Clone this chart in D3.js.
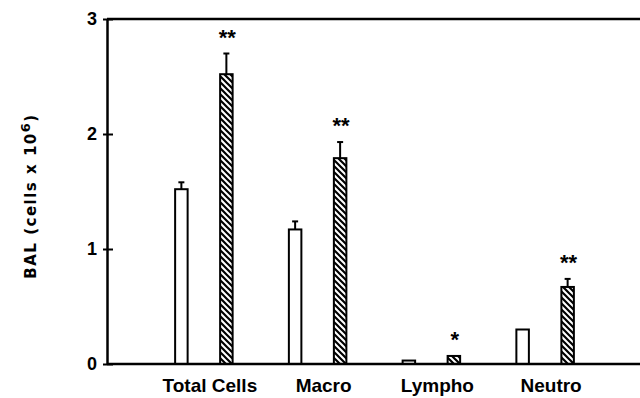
<!DOCTYPE html>
<html>
<head>
<meta charset="utf-8">
<script src="https://cdn.jsdelivr.net/npm/d3@7"></script>
<style>
  body { margin: 0; background: #fff; }
  text { font-family: "Liberation Sans", Arial, sans-serif; font-weight: bold; fill: #000; }
</style>
</head>
<body>
<div id="chart"></div>
<script>
// data (cells x 10^6)
const categories = ["Total Cells", "Macro", "Lympho", "Neutro"];
const series = ["control", "exposed"];
const controlMean = [1.52, 1.17, 0.03, 0.30];
const controlSE = [0.06, 0.07, 0.0, 0.0];
const exposedMean = [2.52, 1.79, 0.07, 0.67];
const exposedSE = [0.18, 0.14, 0.0, 0.07];
const stars = ["**", "**", "*", "**"];
const yTicks = [0, 1, 2, 3];

const width = 640, height = 398;
const margin = { top: 19, right: 0, bottom: 34, left: 107 };

const rows = [];
categories.forEach((c, i) => {
    rows.push({ cat: c, s: "control", mean: controlMean[i], se: controlSE[i], star: "" });
    rows.push({ cat: c, s: "exposed", mean: exposedMean[i], se: exposedSE[i], star: stars[i] });
});

const svg = d3.select("#chart")
    .append("svg")
    .attr("width", width)
    .attr("height", height);

// hatch for the exposed bars
svg.append("defs")
    .append("pattern")
    .attr("id", "hatch")
    .attr("patternUnits", "userSpaceOnUse")
    .attr("width", 6)
    .attr("height", 6)
    .append("path")
    .attr("d", "M0,0L6,6M-1,5L1,7M5,-1L7,1")
    .attr("stroke", "#000")
    .attr("stroke-width", 2.2);

const yScale = d3.scaleLinear()
    .domain([0, 3])
    .range([height - margin.bottom, margin.top]);

const xScale = d3.scaleBand()
    .domain(categories)
    .range([147, 602]);

const xSub = d3.scalePoint()
    .domain(series)
    .range([-22.5, 22.5]);

const barW = 12.5;
const cx = d => xScale(d.cat) + xScale.bandwidth() / 2 + xSub(d.s);

// top frame line runs to the right edge
svg.append("line")
    .attr("x1", margin.left).attr("x2", width)
    .attr("y1", yScale(3)).attr("y2", yScale(3))
    .attr("stroke", "#000").attr("stroke-width", 2.5);

// bars
svg.selectAll("rect.bar")
    .data(rows)
    .join("rect")
    .attr("class", "bar")
    .attr("x", d => cx(d) - barW / 2)
    .attr("width", barW)
    .attr("y", d => yScale(d.mean))
    .attr("height", d => yScale(0) - yScale(d.mean))
    .attr("fill", d => d.s === "control" ? "#fff" : "url(#hatch)")
    .attr("stroke", "#000")
    .attr("stroke-width", 2);

// error bars (upper only)
const err = rows.filter(d => d.se > 0);
svg.selectAll("line.err")
    .data(err)
    .join("line")
    .attr("class", "err")
    .attr("x1", cx).attr("x2", cx)
    .attr("y1", d => yScale(d.mean))
    .attr("y2", d => yScale(d.mean + d.se))
    .attr("stroke", "#000").attr("stroke-width", 2);

svg.selectAll("line.cap")
    .data(err)
    .join("line")
    .attr("class", "cap")
    .attr("x1", d => cx(d) - 3).attr("x2", d => cx(d) + 3)
    .attr("y1", d => yScale(d.mean + d.se))
    .attr("y2", d => yScale(d.mean + d.se))
    .attr("stroke", "#000").attr("stroke-width", 2);

// significance stars
svg.selectAll("text.star")
    .data(rows.filter(d => d.star))
    .join("text")
    .attr("class", "star")
    .attr("x", d => cx(d) + 1)
    .attr("y", d => yScale(d.mean + d.se) - 9)
    .attr("text-anchor", "middle")
    .style("font-size", "22px")
    .text(d => d.star);

// bottom axis line
svg.append("line")
    .attr("x1", margin.left).attr("x2", width)
    .attr("y1", yScale(0)).attr("y2", yScale(0))
    .attr("stroke", "#000").attr("stroke-width", 2.5);

// y axis
const yAxis = svg.append("g")
    .attr("transform", `translate(${margin.left},0)`)
    .call(d3.axisLeft(yScale).tickValues(yTicks).tickFormat(d3.format("d"))
        .tickSize(4).tickSizeOuter(0).tickPadding(6));

yAxis.select(".domain").attr("stroke", "#000").attr("stroke-width", 2.5);
yAxis.selectAll(".tick line")
    .attr("x1", 6).attr("x2", -4)
    .attr("stroke", "#000").attr("stroke-width", 2);
yAxis.selectAll(".tick text")
    .style("font-size", "18px")
    .style("font-family", "'Liberation Sans', Arial, sans-serif")
    .style("font-weight", "bold")
    .attr("fill", "#000");

// category labels
svg.append("g")
    .selectAll("text")
    .data(categories)
    .join("text")
    .attr("x", d => xScale(d) + xScale.bandwidth() / 2 + 6)
    .attr("y", 392)
    .attr("text-anchor", "middle")
    .style("font-size", "19px")
    .text(d => d);

// y label
const yl = svg.append("text")
    .attr("transform", "translate(36,196) rotate(-90)")
    .attr("text-anchor", "middle")
    .style("font-family", "'DejaVu Sans', sans-serif")
    .style("font-size", "15px")
    .style("letter-spacing", "1.5px");
yl.append("tspan").text("BAL (cells x 10");
yl.append("tspan").attr("dy", -6).style("font-size", "13px").text("6");
yl.append("tspan").attr("dy", 6).text(")");
</script>
</body>
</html>
